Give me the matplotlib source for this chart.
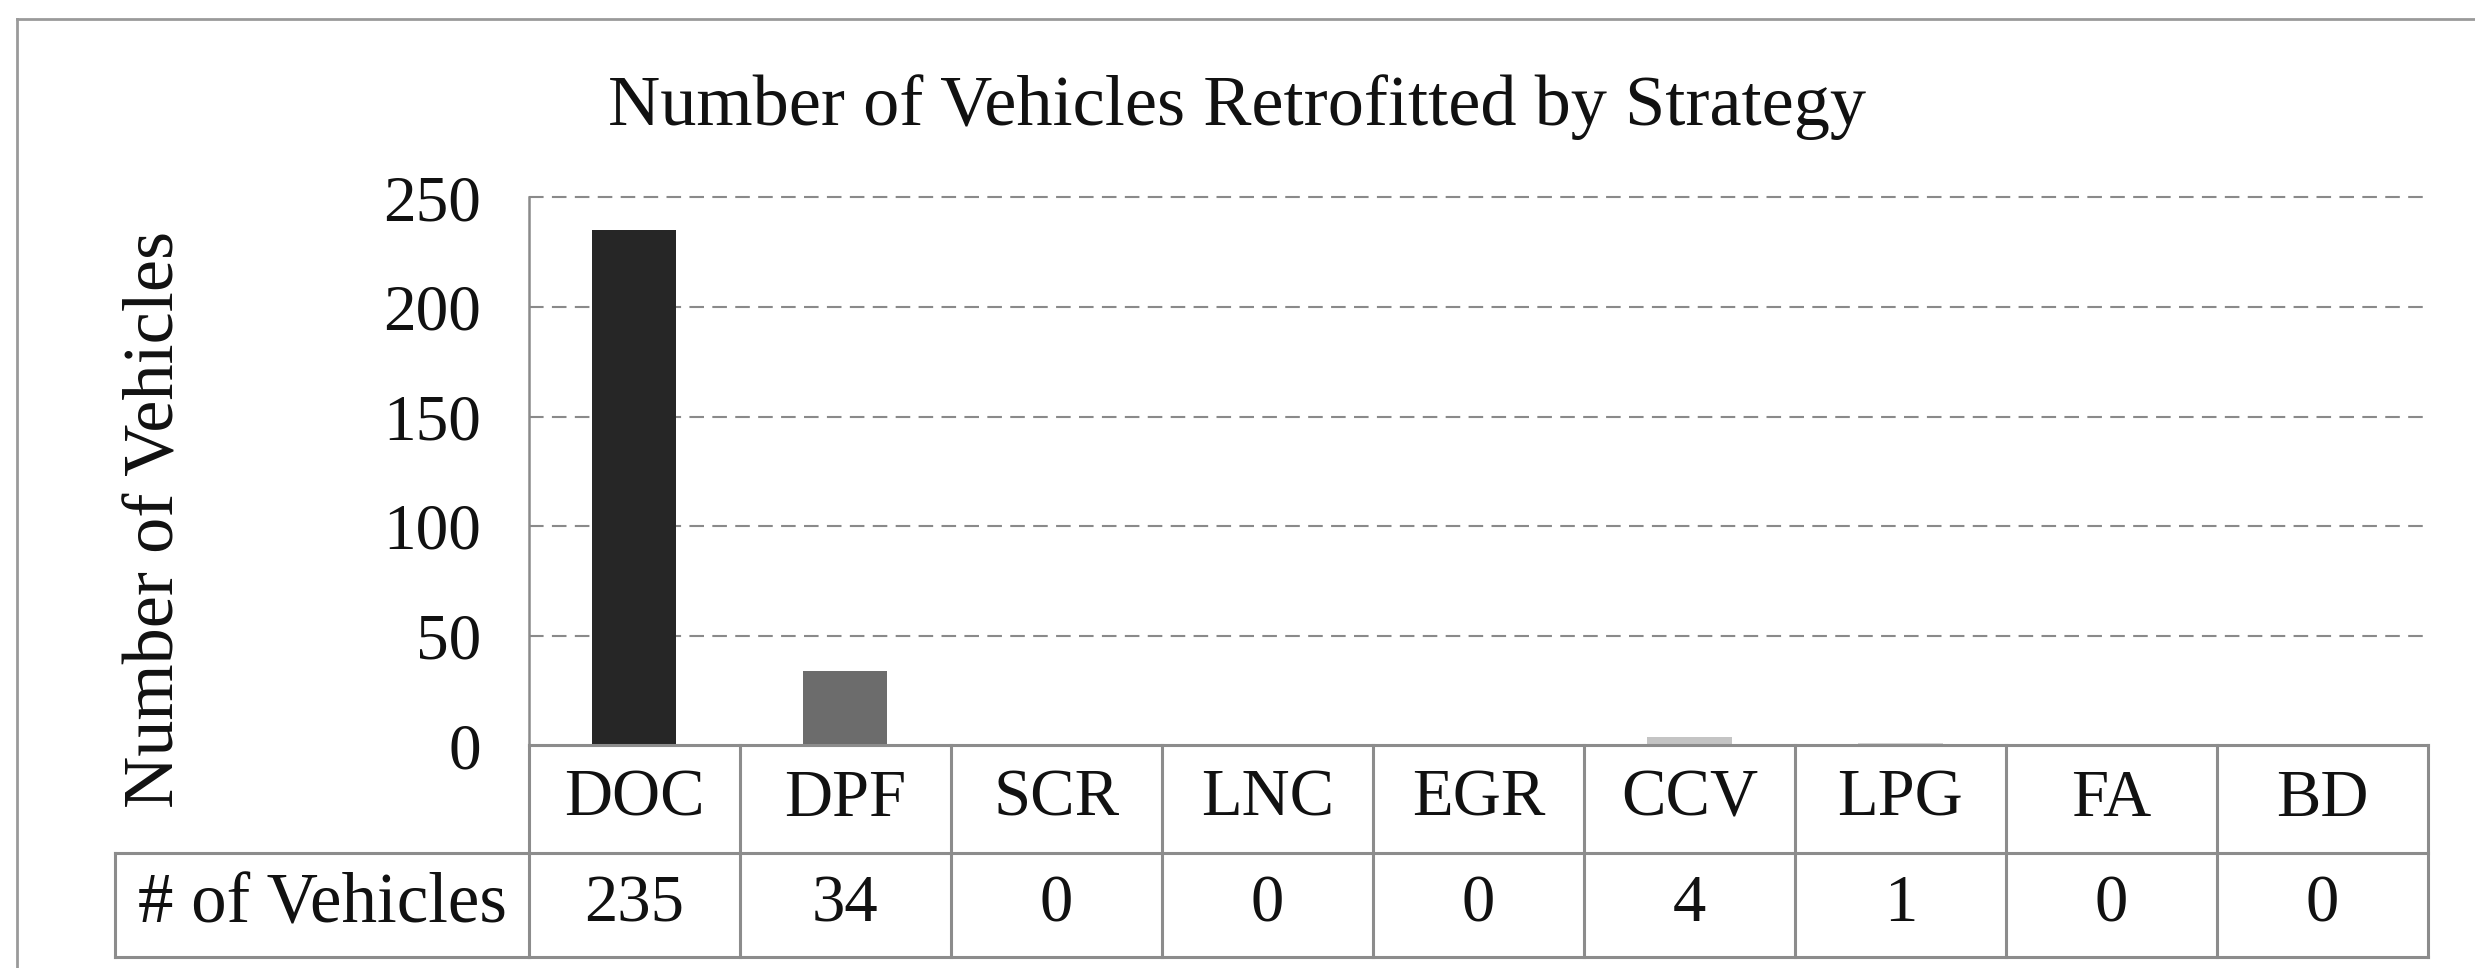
import matplotlib
matplotlib.use("Agg")
import matplotlib.pyplot as plt
from matplotlib.transforms import blended_transform_factory
from matplotlib.lines import Line2D

categories = ["DOC", "DPF", "SCR", "LNC", "EGR", "CCV", "LPG", "FA", "BD"]
values = [235, 34, 0, 0, 0, 4, 1, 0, 0]
row_label = "# of Vehicles"
title = "Number of Vehicles Retrofitted by Strategy"
ylabel = "Number of Vehicles"
yticks = [0, 50, 100, 150, 200, 250]
bar_colors = ["#262626", "#6c6c6c", "#8a8a8a", "#9a9a9a", "#aaaaaa",
              "#c4c4c4", "#d4d4d4", "#e0e0e0", "#ececec"]

plt.rcParams['font.family'] = ['Liberation Serif', 'DejaVu Serif']

W, H = 2475, 968
fig = plt.figure(figsize=(W / 100, H / 100), dpi=100)
fig.patch.set_facecolor("white")

ax_l, ax_r = 0.2136, 0.981
ax_b, ax_t = 0.230, 0.796
ax = fig.add_axes([ax_l, ax_b, ax_r - ax_l, ax_t - ax_b])

x = list(range(len(categories)))
ax.bar(x, values, width=0.40, color=bar_colors, zorder=3)
ax.set_xlim(-0.5, len(categories) - 0.5)
ax.set_ylim(0, 250)
ax.set_yticks(yticks)
ax.set_yticklabels([str(t) for t in yticks], fontsize=47, color="#111111")
ax.tick_params(axis="y", length=0, pad=34)
ax.set_xticks([])
grid_col = "#8a8a8a"
for t in yticks[1:]:
    ax.axhline(t, color=grid_col, lw=1.5, ls=(0, (7, 4)), zorder=1, clip_on=False)
for s in ["top", "right", "bottom"]:
    ax.spines[s].set_visible(False)
ax.spines["left"].set_color(grid_col)
ax.spines["left"].set_linewidth(1.8)

fig.text(0.0630, 0.463, ylabel, fontsize=52, rotation=90, ha="center", va="center",
         color="#111111")

fig.text(0.5, 0.889, title, fontsize=52, ha="center", va="center", color="#111111")

# table
tr = blended_transform_factory(ax.transData, fig.transFigure)
y_hdr_top, y_mid, y_bot = ax_b, 0.119, 0.0114
row_left = 0.0466
lc = "#8c8c8c"
lw = 2.2
xl, xr = -0.5, len(categories) - 0.5
for yy in [y_hdr_top, y_mid, y_bot]:
    fig.add_artist(Line2D([xl, xr], [yy, yy], transform=tr, color=lc, lw=lw))
for i in range(len(categories) + 1):
    xx = i - 0.5
    fig.add_artist(Line2D([xx, xx], [y_bot, y_hdr_top], transform=tr, color=lc, lw=lw))
fig.add_artist(Line2D([row_left, ax_l], [y_mid, y_mid], transform=fig.transFigure, color=lc, lw=lw))
fig.add_artist(Line2D([row_left, ax_l], [y_bot, y_bot], transform=fig.transFigure, color=lc, lw=lw))
fig.add_artist(Line2D([row_left, row_left], [y_bot, y_mid], transform=fig.transFigure, color=lc, lw=lw))

for i, (c, v) in enumerate(zip(categories, values)):
    fig.text(i, (y_hdr_top + y_mid) / 2, c, transform=tr, ha="center", va="center",
             fontsize=48, color="#111111")
    fig.text(i, (y_mid + y_bot) / 2, str(v), transform=tr, ha="center", va="center",
             fontsize=48, color="#111111")
fig.text((row_left + ax_l) / 2, (y_mid + y_bot) / 2, row_label, ha="center", va="center",
         fontsize=51, color="#111111")

# outer frame (top and left edges visible)
fig.add_artist(Line2D([0.007, 1.0], [0.980, 0.980], transform=fig.transFigure, color="#9a9a9a", lw=2))
fig.add_artist(Line2D([0.007, 0.007], [0.0, 0.980], transform=fig.transFigure, color="#9a9a9a", lw=2))

fig.savefig("out.png", dpi=100, facecolor="white")
